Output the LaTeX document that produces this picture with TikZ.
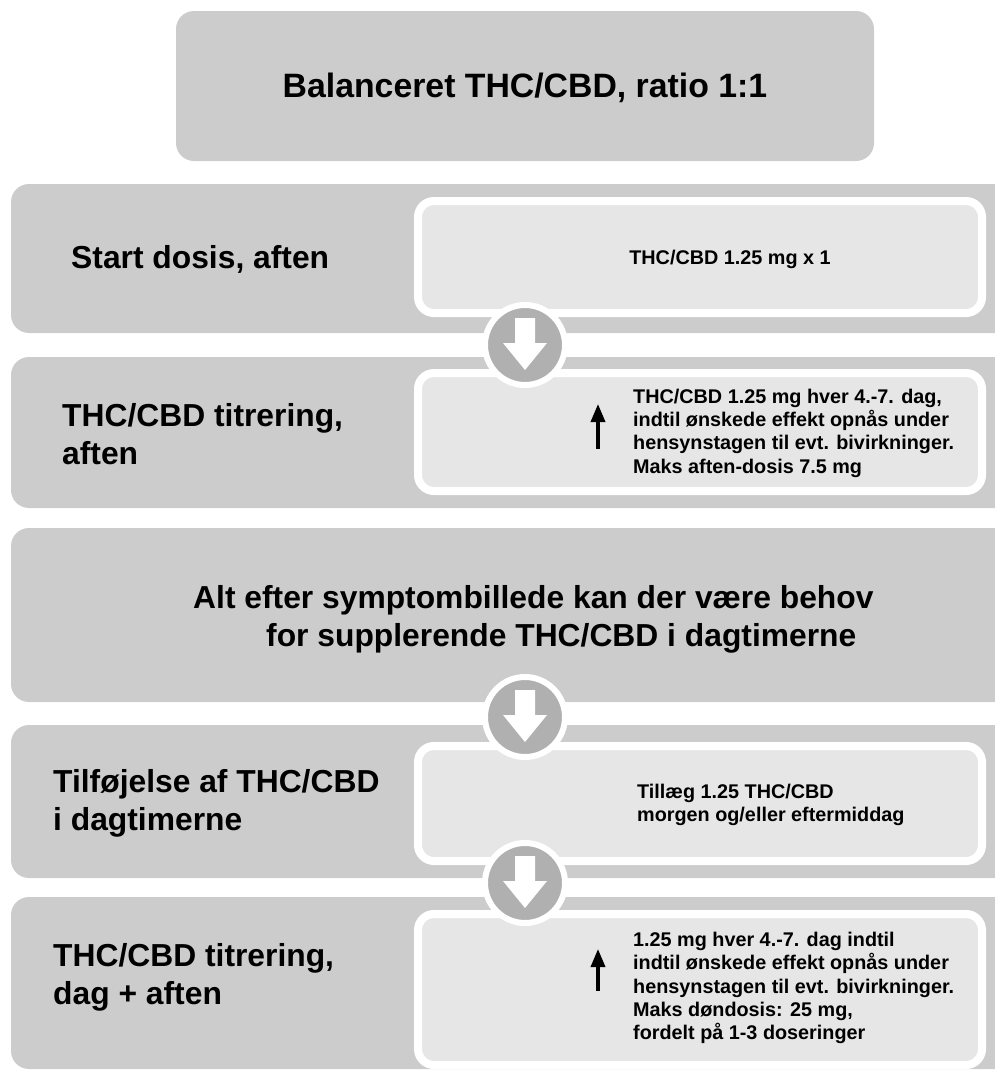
\documentclass[tikz,border=0pt]{standalone}
\usepackage{fontspec}
\setmainfont{Liberation Sans}
\usetikzlibrary{arrows.meta}
\definecolor{outergray}{RGB}{204,204,204}
\definecolor{innergray}{RGB}{230,230,230}
\definecolor{circgray}{RGB}{176,176,176}
\begin{document}
\begin{tikzpicture}[x=1pt,y=-1pt,
  outerbox/.style={fill=outergray, rounded corners=18pt},
  innerbox/.style={fill=innergray, draw=white, line width=8pt, rounded corners=16pt},
  circ/.style={circle, fill=circgray, draw=white, line width=6pt, minimum size=80pt, inner sep=0pt},
  titletxt/.style={font=\bfseries\fontsize{33.8}{40}\selectfont, inner sep=0pt},
  bigtxt/.style={font=\bfseries\fontsize{31.8}{38}\selectfont, align=left, anchor=west, inner sep=0pt},
  smalltxt/.style={font=\bfseries\fontsize{19.8}{23.3}\selectfont, align=left, anchor=west, inner sep=0pt},
  uparrow/.style={-{Triangle[width=14pt,length=18pt]}, line width=3.5pt, black},
  downarrow/.pic={\fill[white] (-10,-27) -- (10,-27) -- (10,-2) -- (22,-2) -- (0,25) -- (-22,-2) -- (-10,-2) -- cycle;}
]
\useasboundingbox (0,0) rectangle (995,1072);
\clip (0,0) rectangle (995,1072);

% title box
\fill[outerbox] (176,11) rectangle (874,161);
\node[titletxt] (title) at (525,88) {Balanceret THC/CBD, ratio 1:1};

% outer rows
\fill[outerbox] (11,184) rectangle (1030,333);
\fill[outerbox] (11,357) rectangle (1030,508);
\fill[outerbox] (11,528) rectangle (1030,702);
\fill[outerbox] (11,725) rectangle (1030,878);
\fill[outerbox] (11,897) rectangle (1030,1069);

% inner boxes
\draw[innerbox] (418,201) rectangle (982,313);
\draw[innerbox] (418,373) rectangle (982,491);
\draw[innerbox] (418,746) rectangle (982,861);
\draw[innerbox] (418,914) rectangle (982,1065);

% row labels
\node[bigtxt] (l1) at (71,259) {Start dosis, aften};
\node[bigtxt] (l2) at (62,434) {THC/CBD titrering,\\aften};
\node[bigtxt] (l3) at (193,619) {Alt efter symptombillede kan der være behov\\\hspace*{73pt}for supplerende THC/CBD i dagtimerne};
\node[bigtxt] (l4) at (53,803) {Tilføjelse af THC/CBD\\i dagtimerne};
\node[bigtxt] (l5) at (53,977) {THC/CBD titrering,\\dag + aften};

% inner texts
\node[smalltxt, anchor=center] (t1) at (730,259) {THC/CBD 1.25 mg x 1};
\node[smalltxt] (t2) at (633,433) {THC/CBD 1.25 mg hver 4.-7. dag,\\ indtil ønskede effekt opnås under\\hensynstagen til evt. bivirkninger.\\Maks aften-dosis 7.5 mg};
\node[smalltxt] (t4) at (637,805) {Tillæg 1.25 THC/CBD\\ morgen og/eller eftermiddag};
\node[smalltxt] (t5) at (633,988) {1.25 mg hver 4.-7. dag indtil\\indtil ønskede effekt opnås under\\hensynstagen til evt. bivirkninger.\\Maks døndosis: 25 mg,\\fordelt på 1-3 doseringer};

% up arrows
\coordinate (a2s) at (598,449);
\coordinate (a2e) at (598,404);
\draw[uparrow] (a2s) -- (a2e);
\coordinate (a5s) at (598,991);
\coordinate (a5e) at (598,949);
\draw[uparrow] (a5s) -- (a5e);

% step circles
\node[circ] (c1) at (525,345) {};
\node[circ] (c2) at (525,717) {};
\node[circ] (c3) at (525,883) {};
\pic at (c1) {downarrow};
\pic at (c2) {downarrow};
\pic at (c3) {downarrow};
\end{tikzpicture}
\end{document}
